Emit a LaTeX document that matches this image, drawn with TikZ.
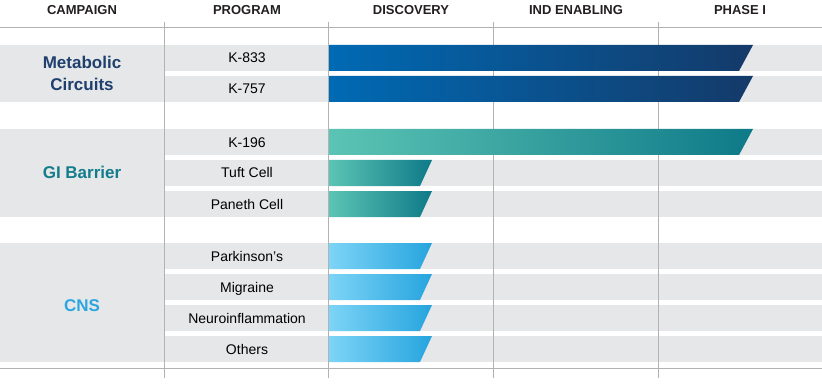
\documentclass[tikz,border=0pt]{standalone}
\usepackage{fontspec}
\setmainfont{Liberation Sans}
\definecolor{rowgray}{RGB}{230,231,233}
\definecolor{linegray}{RGB}{178,178,178}
\definecolor{headtxt}{RGB}{35,31,32}
\definecolor{metatxt}{RGB}{31,63,109}
\definecolor{gitxt}{RGB}{19,125,140}
\definecolor{cnstxt}{RGB}{44,166,224}
\definecolor{metaL}{RGB}{0,106,180}
\definecolor{metaR}{RGB}{20,58,105}
\definecolor{giL}{RGB}{92,196,180}
\definecolor{giR}{RGB}{14,122,136}
\definecolor{cnsL}{RGB}{125,212,246}
\definecolor{cnsR}{RGB}{38,164,222}
\tikzset{
  head/.style={text=headtxt,font=\fontsize{13}{15}\selectfont\bfseries,inner sep=0pt,anchor=base},
  prog/.style={text=black,font=\fontsize{14}{16}\selectfont,inner sep=0pt,anchor=base},
  camp/.style={font=\fontsize{17}{22}\selectfont\bfseries,inner sep=0pt,anchor=base,align=center},
  grid/.style={draw=linegray,line width=1pt},
}
\begin{document}
\begin{tikzpicture}[x=1pt,y=-1pt]
\useasboundingbox (0,0) rectangle (822,385);
% campaign cells
\fill[rowgray] (0,45) rectangle (164,102);
\fill[rowgray] (0,129) rectangle (164,217);
\fill[rowgray] (0,243) rectangle (164,362);
% row backgrounds
\foreach \t in {45,76,129,160,191,243,274,305,336}{
  \fill[rowgray] (164,\t) rectangle (822,\t+26);
}
% grid lines
\draw[grid] (0,28) -- (822,28);
\draw[grid] (0,368) -- (822,368);
\foreach \x in {164,328.5,493,658}{
  \draw[grid] (\x,22) -- (\x,378);
}
% bars
\shade[left color=metaL,right color=metaR] (329,45) -- (753,45) -- (739,71) -- (329,71) -- cycle;
\shade[left color=metaL,right color=metaR] (329,76) -- (753,76) -- (739,102) -- (329,102) -- cycle;
\shade[left color=giL,right color=giR] (329,129) -- (753,129) -- (739,155) -- (329,155) -- cycle;
\shade[left color=giL,right color=giR] (329,160) -- (432,160) -- (420,186) -- (329,186) -- cycle;
\shade[left color=giL,right color=giR] (329,191) -- (432,191) -- (420,217) -- (329,217) -- cycle;
\foreach \t in {243,274,305,336}{
  \shade[left color=cnsL,right color=cnsR] (329,\t) -- (432,\t) -- (420,\t+26) -- (329,\t+26) -- cycle;
}
% headers
\node[head] (hcamp) at (82,14.2) {CAMPAIGN};
\node[head] (hprog) at (247,14.2) {PROGRAM};
\node[head] (hdisc) at (411,14.2) {DISCOVERY};
\node[head] (hind) at (576,14.2) {IND ENABLING};
\node[head] (hph) at (740,14.2) {PHASE I};
% campaigns
\node[camp,text=metatxt] (cmeta) at (82,69) {Metabolic};
\node[camp,text=metatxt] (cmeta2) at (82,91) {Circuits};
\node[camp,text=gitxt] (cgi) at (82,178.5) {GI Barrier};
\node[camp,text=cnstxt] (ccns) at (82,311) {CNS};
% programs
\node[prog] (p1) at (247,63) {K-833};
\node[prog] (p2) at (247,94) {K-757};
\node[prog] (p3) at (247,147) {K-196};
\node[prog] (p4) at (247,178) {Tuft Cell};
\node[prog] (p5) at (247,209) {Paneth Cell};
\node[prog] (p6) at (247,261) {Parkinson’s};
\node[prog] (p7) at (247,292) {Migraine};
\node[prog] (p8) at (247,323) {Neuroinflammation};
\node[prog] (p9) at (247,354) {Others};
\end{tikzpicture}
\end{document}
